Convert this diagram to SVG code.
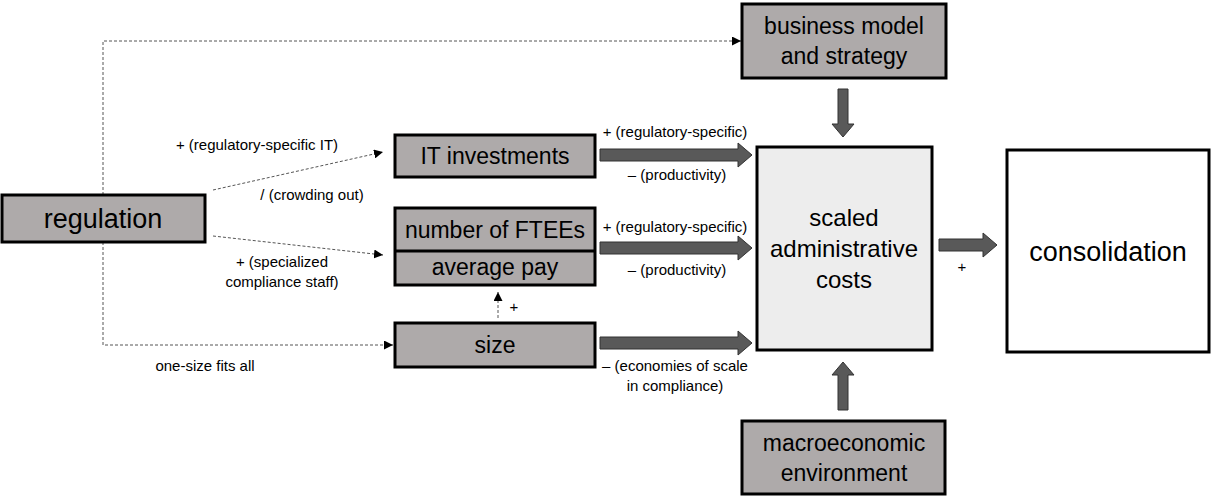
<svg xmlns="http://www.w3.org/2000/svg" width="1212" height="498" viewBox="0 0 1212 498">
<style>
.box{fill:#aeaaaa;stroke:#000;stroke-width:3}
.big{font-family:"Liberation Sans",Arial,sans-serif;fill:#000;text-anchor:middle}
.lbl{font-family:"Liberation Sans",Arial,sans-serif;font-size:15px;fill:#000;text-anchor:middle}
.dot{fill:none;stroke:#555;stroke-width:1;stroke-dasharray:3,2}
.fat{fill:#595959;stroke:#333;stroke-width:1}
</style>
<defs>
<marker id="tri" viewBox="0 0 10 10" refX="10" refY="5" markerWidth="9" markerHeight="9" markerUnits="userSpaceOnUse" orient="auto">
<path d="M0,0 L10,5 L0,10 Z" fill="#000"/>
</marker>
</defs>
<rect width="1212" height="498" fill="#fff"/>
<g id="connectors">
<path class="dot" d="M103,195 V41 H741" marker-end="url(#tri)"/>
<path class="dot" d="M213,190 L383,152" marker-end="url(#tri)"/>
<path class="dot" d="M213,236 L383,255" marker-end="url(#tri)"/>
<path class="dot" d="M103,242 V345 H393" marker-end="url(#tri)"/>
<path class="dot" d="M498,318 V292" marker-end="url(#tri)"/>
<path class="fat" d="M600,149 H738 V143 L752,155 L738,167 V161 H600 Z"/>
<path class="fat" d="M600,242 H738 V236 L752,248 L738,260 V254 H600 Z"/>
<path class="fat" d="M600,337 H738 V331 L752,343 L738,355 V349 H600 Z"/>
<path class="fat" d="M838,89 H848 V124 H854 L843,137 L832,124 H838 Z"/>
<path class="fat" d="M838,410 H848 V375 H854 L843,362 L832,375 H838 Z"/>
<path class="fat" d="M939,239 H983 V233 L997,245 L983,257 V251 H939 Z"/>
<text class="lbl" x="257" y="150">+ (regulatory-specific IT)</text>
<text class="lbl" x="312" y="200">/ (crowding out)</text>
<text class="lbl" x="282" y="267">+ (specialized</text>
<text class="lbl" x="282" y="287">compliance staff)</text>
<text class="lbl" x="205" y="371">one-size fits all</text>
<text class="lbl" x="675" y="137">+ (regulatory-specific)</text>
<text class="lbl" x="677" y="180">– (productivity)</text>
<text class="lbl" x="675" y="232">+ (regulatory-specific)</text>
<text class="lbl" x="677" y="275">– (productivity)</text>
<text class="lbl" x="675" y="371">– (economies of scale</text>
<text class="lbl" x="675" y="391">in compliance)</text>
<text class="lbl" x="514" y="312" font-size="12">+</text>
<text class="lbl" x="962" y="272" font-size="12">+</text>
</g>
<g id="regulation">
<rect class="box" x="2" y="195" width="203" height="47"/>
<text class="big" x="103" y="228" font-size="27">regulation</text>
</g>
<g id="it-investments">
<rect class="box" x="395" y="135" width="200" height="42"/>
<text class="big" x="495" y="164" font-size="23">IT investments</text>
</g>
<g id="ftees-pay">
<rect class="box" x="395" y="208" width="200" height="77"/>
<line x1="395" y1="251" x2="595" y2="251" stroke="#000" stroke-width="3"/>
<text class="big" x="495" y="238" font-size="23">number of FTEEs</text>
<text class="big" x="495" y="275" font-size="23">average pay</text>
</g>
<g id="size">
<rect class="box" x="395" y="323" width="200" height="44"/>
<text class="big" x="495" y="353" font-size="23">size</text>
</g>
<g id="business-model">
<rect class="box" x="742" y="4" width="204" height="74"/>
<text class="big" x="844" y="34" font-size="23">business model</text>
<text class="big" x="844" y="64" font-size="23">and strategy</text>
</g>
<g id="costs">
<rect x="757" y="147" width="175" height="203" fill="#ededed" stroke="#000" stroke-width="3"/>
<text class="big" x="844" y="226" font-size="24">scaled</text>
<text class="big" x="844" y="257" font-size="24">administrative</text>
<text class="big" x="844" y="288" font-size="24">costs</text>
</g>
<g id="macro">
<rect class="box" x="742" y="421" width="203" height="73"/>
<text class="big" x="844" y="451" font-size="23">macroeconomic</text>
<text class="big" x="844" y="481" font-size="23">environment</text>
</g>
<g id="consolidation">
<rect x="1007" y="150" width="202" height="202" fill="#fff" stroke="#000" stroke-width="3"/>
<text class="big" x="1108" y="261" font-size="27">consolidation</text>
</g>
</svg>
